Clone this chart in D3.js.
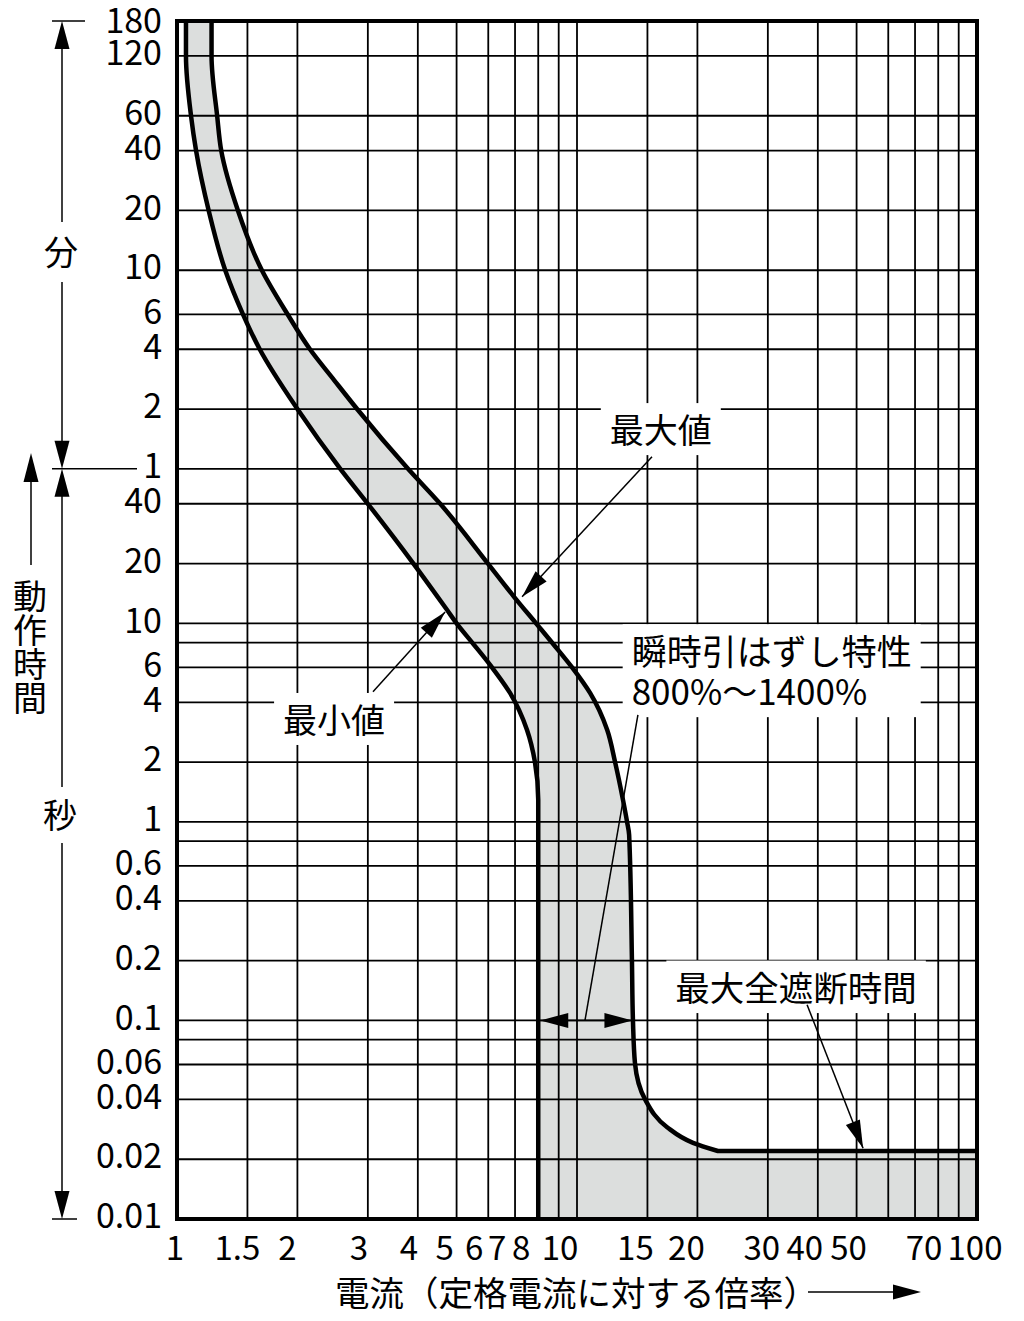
<!DOCTYPE html>
<html lang="ja">
<head>
<meta charset="utf-8">
<title>動作時間特性</title>
<script src="https://cdn.jsdelivr.net/npm/d3@7"></script>
<style>
  html, body { margin: 0; background: #fff; }
  svg { display: block; font-family: "Noto Sans CJK JP", "Noto Sans", sans-serif; }
  .grid line { stroke: #000; stroke-width: 1.8; }
  .tick-label { font-size: 34px; fill: #000; }
  .note { fill: #000; }
  .thin { stroke: #000; stroke-width: 1.5; fill: none; }
</style>
</head>
<body>
<svg id="chart" width="1024" height="1321"></svg>
<script>
// x: current as multiple of rated current, y: operating time
const X_TICKS = [1, 1.5, 2, 3, 4, 5, 6, 7, 8, 10, 15, 20, 30, 40, 50, 70, 100];
const X_GRID = [1.5, 2, 3, 4, 5, 6, 7, 8, 9, 10, 15, 20, 30, 40, 50, 60, 70, 80, 90];
const SEC_TICKS = [0.01, 0.02, 0.04, 0.06, 0.1, 0.2, 0.4, 0.6, 1, 2, 4, 6, 10, 20, 40];
const SEC_GRID_EXTRA = [0.08, 0.8, 8];
const MIN_TICKS = [1, 2, 4, 6, 10, 20, 40, 60, 120, 180];

// [multiple, seconds]
const minCurve = [
  [1.053, 10800], [1.053, 7200], [1.084, 3600], [1.116, 2400], [1.20, 1200],
  [1.32, 600], [1.462, 360], [1.61, 240], [2.0, 120], [2.56, 60], [3.0, 40],
  [3.9, 20], [4.73, 11.7], [5.0, 10], [5.47, 8], [6.13, 6], [6.8, 4.46],
  [7.5, 2.9], [7.85, 2], [8.0, 1.29], [8.0, 0.01]
];
const maxCurve = [
  [1.22, 10800], [1.22, 7200], [1.26, 3600], [1.29, 2400], [1.42, 1200],
  [1.63, 600], [1.89, 360], [2.15, 240], [2.47, 168], [2.82, 120],
  [3.78, 60], [4.55, 40], [5.99, 20], [6.96, 13.6], [7.90, 10], [8.76, 7.78],
  [9.72, 6], [10.78, 4.46], [11.9, 2.9], [12.45, 2], [13.03, 1.29], [13.34, 1],
  [13.5, 0.86], [13.72, 0.2], [13.8, 0.1], [13.96, 0.061], [14.8, 0.04],
  [16.8, 0.029], [19.5, 0.0242], [22.5, 0.022], [100, 0.022]
];

const INSTANT_RANGE = [8, 14];      // 800% ~ 1400%
const INSTANT_MARK_TIME = 0.1;

const X_LABEL_NUDGE = { 1: -2, 1.5: -10, 2: -10, 3: -9, 4: -9, 5: -12, 6: -14, 7: -18, 8: -17,
  10: -17, 15: -12, 20: -11, 30: -6, 40: -13, 50: -8, 70: 9, 100: -2 };

const ANNOTATIONS = [
  { lines: ["最大値"], at: [16.2, 94], anchor: "middle", size: 34 },
  { lines: ["瞬時引はずし特性", "800%～1400%"], at: [13.7, 7.2], anchor: "start", size: 35, leading: 40 },
  { lines: ["最小値"], at: [2.47, 3.26], anchor: "middle", size: 34 },
  { lines: ["最大全遮断時間"], at: [35.3, 0.146], anchor: "middle", size: 34.5 }
];
const POINTERS = [
  { from: [15.4, 69], to: [7.29, 13.6], head: true },
  { from: [3.09, 4.52], to: [4.68, 11.4], head: true },
  { from: [14.2, 3.46], to: [10.47, 0.1], head: false },
  { from: [37.6, 0.12], to: [51.9, 0.0227], head: true }
];

const svg = d3.select("#chart");
const x = d3.scaleLog().domain([1, 100]).range([177, 977]);
const y = d3.scaleLog().domain([0.01, 10800]).range([1219, 21]);
const [X0, X1] = x.range();
const [Y0, Y1] = y.range();

const fillG = svg.append("g");
const gridG = svg.append("g").attr("class", "grid");
const notesG = svg.append("g");
const curveG = svg.append("g");

function arrowHead(sel, x1, y1, x2, y2, len = 28, half = 7.5) {
  const a = Math.atan2(y2 - y1, x2 - x1);
  const bx = x2 - len * Math.cos(a), by = y2 - len * Math.sin(a);
  const nx = -Math.sin(a) * half, ny = Math.cos(a) * half;
  sel.append("path")
    .attr("d", `M${x2},${y2}L${bx + nx},${by + ny}L${bx - nx},${by - ny}Z`)
    .attr("fill", "#000");
}

// smooth curve, a trailing run at constant time drawn straight
const smooth = d3.line().x(d => x(d[0])).y(d => y(d[1])).curve(d3.curveMonotoneY);
function curvePath(pts) {
  let k = pts.length - 1;
  while (k > 0 && pts[k - 1][1] === pts[k][1]) k--;
  let d = smooth(pts.slice(0, k + 1));
  for (let i = k + 1; i < pts.length; i++) d += `L${x(pts[i][0])},${y(pts[i][1])}`;
  return d;
}
function samplePath(node) {
  const len = node.getTotalLength(), out = [];
  for (let s = 0; s < len; s += 1) {
    const p = node.getPointAtLength(s);
    out.push([p.x, p.y]);
  }
  const p = node.getPointAtLength(len);
  out.push([p.x, p.y]);
  return out;
}

// curves
const curveNodes = [minCurve, maxCurve].map(c =>
  curveG.append("path").attr("d", curvePath(c))
    .attr("fill", "none").attr("stroke", "#000").attr("stroke-width", 4.5)
    .attr("stroke-linejoin", "round").node());

// band between min and max
const minPts = samplePath(curveNodes[0]);
const maxPts = samplePath(curveNodes[1]).reverse();
fillG.append("path")
  .attr("d", d3.line()(minPts.concat([[x(100), y(0.01)]], maxPts)) + "Z")
  .attr("fill", "#dcdedd");

// grid
const hLines = SEC_TICKS.filter(v => v > 0.01).concat(SEC_GRID_EXTRA)
  .concat(MIN_TICKS.filter(m => m < 180).map(m => m * 60));
gridG.selectAll(".h").data(hLines).join("line")
  .attr("x1", X0).attr("x2", X1).attr("y1", d => y(d)).attr("y2", d => y(d));
gridG.selectAll(".v").data(X_GRID).join("line")
  .attr("x1", d => x(d)).attr("x2", d => x(d)).attr("y1", Y0).attr("y2", Y1);

// annotation labels with white boxes
ANNOTATIONS.forEach(n => {
  const g = notesG.append("g");
  const box = g.append("rect").attr("fill", "#fff");
  const cx = x(n.at[0]), cy = y(n.at[1]);
  const base = cy + 0.38 * n.size;
  const t = g.append("text").attr("class", "note")
    .attr("text-anchor", n.anchor).style("font-size", n.size + "px");
  n.lines.forEach((s, i) => {
    t.append("tspan").attr("x", cx).attr("y", base + i * (n.leading || 0)).text(s);
  });
  const bb = t.node().getBBox();
  const top = cy - 0.5 * n.size - 10;
  const bottom = base + (n.lines.length - 1) * (n.leading || 0) + 0.12 * n.size + 8;
  box.attr("x", bb.x - 9).attr("width", bb.width + 18)
    .attr("y", top).attr("height", bottom - top);
});

// frame
svg.append("rect")
  .attr("x", X0).attr("y", Y1).attr("width", X1 - X0).attr("height", Y0 - Y1)
  .attr("fill", "none").attr("stroke", "#000").attr("stroke-width", 4);

// pointers
const ptr = svg.append("g");
POINTERS.forEach(p => {
  const x1 = x(p.from[0]), y1 = y(p.from[1]), x2 = x(p.to[0]), y2 = y(p.to[1]);
  ptr.append("line").attr("class", "thin")
    .attr("x1", x1).attr("y1", y1).attr("x2", x2).attr("y2", y2);
  if (p.head) arrowHead(ptr, x1, y1, x2, y2);
});
{
  const yy = y(INSTANT_MARK_TIME);
  const xa = x(INSTANT_RANGE[0]) + 2, xb = x(INSTANT_RANGE[1]) - 3;
  ptr.append("line").attr("class", "thin").attr("x1", xa).attr("x2", xb).attr("y1", yy).attr("y2", yy);
  arrowHead(ptr, xb, yy, xa, yy);
  arrowHead(ptr, xa, yy, xb, yy);
}

// y tick labels
const yLabels = SEC_TICKS.map(v => ({ s: v, text: String(v) }))
  .concat(MIN_TICKS.map(v => ({ s: v * 60, text: String(v) })));
svg.append("g").selectAll("text").data(yLabels).join("text")
  .attr("class", "tick-label")
  .attr("x", 162).attr("y", d => y(d.s) - (d.s === 10800 ? 0 : 3))
  .attr("dy", "0.36em")
  .attr("text-anchor", "end")
  .text(d => d.text);

// x tick labels
svg.append("g").selectAll("text").data(X_TICKS).join("text")
  .attr("class", "tick-label")
  .style("font-size", "33px")
  .attr("x", d => x(d) + (X_LABEL_NUDGE[d] || 0))
  .attr("y", 1260)
  .attr("text-anchor", "middle")
  .text(d => d);

// x title with arrow
svg.append("text").attr("class", "note")
  .attr("x", 335).attr("y", 1306).style("font-size", "34.5px")
  .text("電流（定格電流に対する倍率）");
svg.append("line").attr("class", "thin").attr("x1", 808).attr("x2", 900).attr("y1", 1292).attr("y2", 1292);
arrowHead(svg, 808, 1292, 921, 1292);

// left side: minutes / seconds ranges
const left = svg.append("g");
const AX = 62;
const yTop = y(10800), yMin = y(60), yBot = y(0.01);
[[52, 85, yTop], [52, 137, yMin], [52, 77, yBot]].forEach(([a, b, yy]) => {
  left.append("line").attr("class", "thin").attr("x1", a).attr("x2", b).attr("y1", yy).attr("y2", yy);
});
const minGap = [222, 282], secGap = [787, 843];
left.append("line").attr("class", "thin").attr("x1", AX).attr("x2", AX).attr("y1", yTop + 20).attr("y2", minGap[0]);
left.append("line").attr("class", "thin").attr("x1", AX).attr("x2", AX).attr("y1", minGap[1]).attr("y2", yMin - 20);
arrowHead(left, AX, yTop + 40, AX, yTop);
arrowHead(left, AX, yMin - 40, AX, yMin);
left.append("line").attr("class", "thin").attr("x1", AX).attr("x2", AX).attr("y1", yMin + 20).attr("y2", secGap[0]);
left.append("line").attr("class", "thin").attr("x1", AX).attr("x2", AX).attr("y1", secGap[1]).attr("y2", yBot - 20);
arrowHead(left, AX, yMin + 40, AX, yMin);
arrowHead(left, AX, yBot - 40, AX, yBot);
left.append("text").attr("class", "note").attr("x", 61).attr("y", 252 + 13)
  .attr("text-anchor", "middle").style("font-size", "34px").text("分");
left.append("text").attr("class", "note").attr("x", 60).attr("y", 815 + 13)
  .attr("text-anchor", "middle").style("font-size", "34px").text("秒");

// 動作時間 (vertical) with upward arrow
left.append("line").attr("class", "thin").attr("x1", 31).attr("x2", 31).attr("y1", 565).attr("y2", 470);
arrowHead(left, 31, 500, 31, 453, 29, 7.5);
left.append("text").attr("class", "note")
  .attr("x", 30).attr("y", 579)
  .style("writing-mode", "vertical-rl")
  .style("font-size", "34px")
  .text("動作時間");
</script>
</body>
</html>
